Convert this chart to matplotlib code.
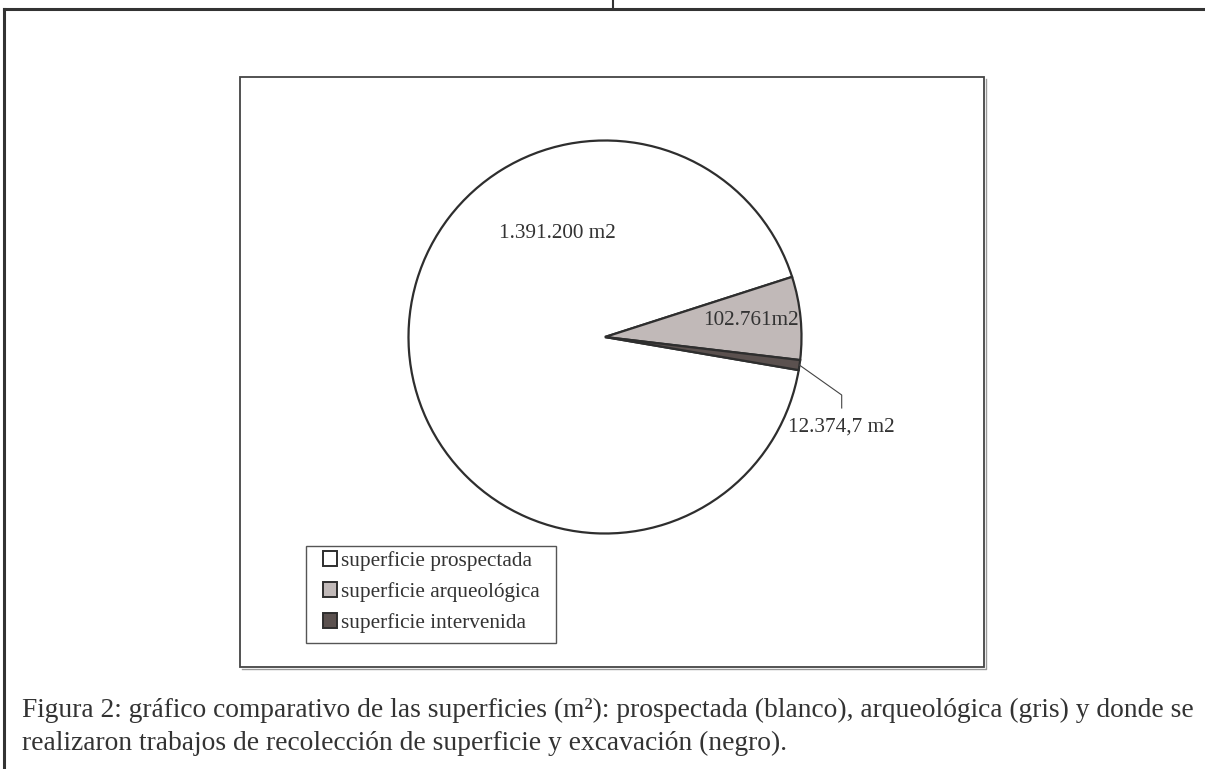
import numpy as np
import matplotlib
matplotlib.use("Agg")
import matplotlib.pyplot as plt
from matplotlib.patches import Rectangle, Patch
from matplotlib.lines import Line2D

# ---- data ----
categories = ["superficie prospectada", "superficie arqueológica", "superficie intervenida"]
values = [1391200, 102761, 12374.7]
value_labels = ["1.391.200 m2", "102.761m2", "12.374,7 m2"]
colors = ["#FFFFFF", "#C1B9B8", "#5B514F"]
caption_1 = ("Figura 2: gráfico comparativo de las superficies (m²): prospectada (blanco), "
             "arqueológica (gris) y donde se")
caption_2 = "realizaron trabajos de recolección de superficie y excavación (negro)."

W, H = 1205, 769
DPI = 100
plt.rcParams['font.family'] = ['Liberation Serif', 'DejaVu Serif']
TXT = "#333333"
EDGE = "#2E2E2E"
FS = 15.3

fig = plt.figure(figsize=(W / DPI, H / DPI), dpi=DPI)
fig.patch.set_facecolor("white")

def fx(px):
    return px / W

def fy(py):
    return 1 - py / H

# outer frame lines
fig.add_artist(Line2D([fx(3.5), fx(1205)], [fy(8.7), fy(8.7)], color="#333333", lw=2.2))
fig.add_artist(Line2D([fx(3.5), fx(3.5)], [fy(8.7), fy(769)], color="#333333", lw=2.2))
fig.add_artist(Line2D([fx(612.7), fx(612.7)], [fy(0), fy(8.7)], color="#333333", lw=1.5))

# chart box (with slight shadow on right/bottom)
fig.add_artist(Line2D([fx(241.5), fx(986), fx(986)], [fy(669), fy(669), fy(78.5)],
                      color="#9A9A9A", lw=1.0))
fig.add_artist(Rectangle((fx(240), fy(667)), fx(984) - fx(240), fy(77) - fy(667),
                         transform=fig.transFigure, fill=False, edgecolor="#444444", lw=1.3))

# pie axes
cx, cy, r = 605, 337, 196.5
ax = fig.add_axes([fx(cx - r), fy(cy + r), (2 * r) / W, (2 * r) / H])
ax.set_aspect("equal")
ax.axis("off")

wedges, _ = ax.pie(values, colors=colors, startangle=350.3, counterclock=False,
                   radius=1.0, center=(0, 0),
                   wedgeprops=dict(edgecolor=EDGE, linewidth=1.6, joinstyle="miter"))
ax.set_xlim(-1, 1)
ax.set_ylim(-1, 1)

# white slice label
ax.text((557 - cx) / r, (cy - 233) / r, value_labels[0], ha="center", va="center",
        fontsize=FS, color=TXT)
# gray slice label along mid-angle
w1 = wedges[1]
mid1 = np.deg2rad((w1.theta1 + w1.theta2) / 2)
ax.text(0.745 * np.cos(mid1), 0.745 * np.sin(mid1) + 0.01, value_labels[1],
        ha="center", va="center", fontsize=FS, color=TXT)
# dark slice label with leader line
w2 = wedges[2]
mid2 = np.deg2rad((w2.theta1 + w2.theta2) / 2)
p0 = (np.cos(mid2), np.sin(mid2))
p1 = (236.7 / r, -58 / r)
p2 = (236.7 / r, -71 / r)
ax.plot([p0[0], p1[0], p2[0]], [p0[1], p1[1], p2[1]], color="#444444", lw=0.8,
        clip_on=False, solid_joinstyle="miter")
ax.text(p2[0], -89.7 / r, value_labels[2], ha="center", va="center", fontsize=FS,
        color=TXT, clip_on=False)

# legend frame
fig.add_artist(Rectangle((fx(305.7), fy(643)), fx(555.7) - fx(305.7), fy(546) - fy(643),
                         transform=fig.transFigure, fill=False, edgecolor="#555555", lw=1.0))
handles = [Patch(facecolor=c, edgecolor=EDGE, linewidth=1.4) for c in colors]
leg = fig.legend(handles, categories, loc="upper left",
                 bbox_to_anchor=(fx(323), fy(551)), bbox_transform=fig.transFigure,
                 borderaxespad=0, borderpad=0, fontsize=FS, frameon=False,
                 handlelength=0.66, handleheight=0.66, handletextpad=0.2,
                 labelspacing=0.52)
for t in leg.get_texts():
    t.set_color(TXT)

# caption: fit line 1 width
t1 = fig.text(fx(22), fy(710), caption_1, ha="left", va="center", fontsize=20, color=TXT)
fig.canvas.draw()
renderer = fig.canvas.get_renderer()
wpx = t1.get_window_extent(renderer).width
fs = 20 * (1175 / wpx)
t1.set_fontsize(fs)
fig.text(fx(22), fy(743), caption_2, ha="left", va="center", fontsize=fs, color=TXT)

fig.savefig("out.png", dpi=DPI, facecolor="white")
